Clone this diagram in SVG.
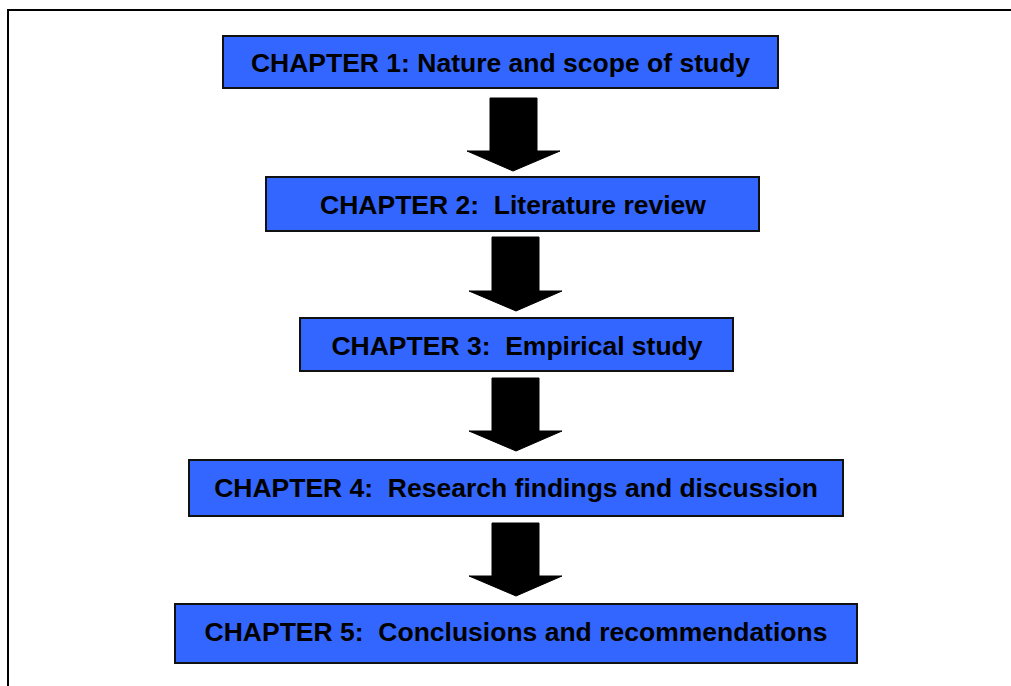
<svg xmlns="http://www.w3.org/2000/svg" width="1011" height="686" viewBox="0 0 1011 686">
<style>
.box{fill:#3366ff;stroke:#111;stroke-width:2}
.lbl{font-family:"Liberation Sans",Arial,sans-serif;font-weight:bold;font-size:26.5px;fill:#000;text-anchor:middle;white-space:pre}
.arr{fill:#000;stroke:#000;stroke-width:1}
</style>
<rect x="0" y="0" width="1011" height="686" fill="#fff"/>
<rect x="8" y="10" width="1020" height="700" fill="none" stroke="#000" stroke-width="2"/>
<g id="connectors">
<polygon class="arr" points="490,98 537,98 537,151 560,151 513,171 467,151 490,151"/>
<polygon class="arr" points="492,237 539,237 539,291 562,291 516,311 469,291 492,291"/>
<polygon class="arr" points="492,378 539,378 539,431 562,431 516,451 469,431 492,431"/>
<polygon class="arr" points="492,523 539,523 539,576 562,576 516,596 469,576 492,576"/>
</g>
<g id="ch1"><rect class="box" x="223" y="36" width="555" height="52"/><text class="lbl" x="500.5" y="72">CHAPTER 1: Nature and scope of study</text></g>
<g id="ch2"><rect class="box" x="266" y="177" width="493" height="54"/><text class="lbl" x="513" y="214" xml:space="preserve">CHAPTER 2:  Literature review</text></g>
<g id="ch3"><rect class="box" x="300" y="318" width="433" height="53"/><text class="lbl" x="517" y="355" xml:space="preserve">CHAPTER 3:  Empirical study</text></g>
<g id="ch4"><rect class="box" x="189" y="460" width="654" height="56"/><text class="lbl" x="516" y="497" xml:space="preserve">CHAPTER 4:  Research findings and discussion</text></g>
<g id="ch5"><rect class="box" x="175" y="604" width="682" height="59"/><text class="lbl" x="516" y="641" xml:space="preserve">CHAPTER 5:  Conclusions and recommendations</text></g>
</svg>
